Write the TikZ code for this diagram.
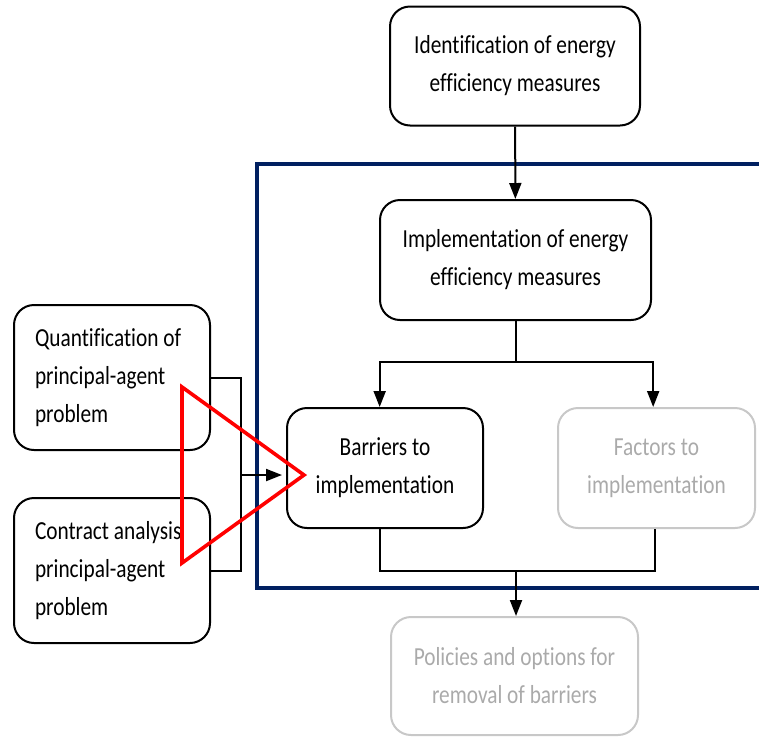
\documentclass[tikz,border=0pt]{standalone}
\usepackage{fontspec}
\usetikzlibrary{arrows.meta}
\newfontfamily\boxfont[FakeStretch=0.82,Ligatures=CommonOff]{Carlito}
\definecolor{frameblue}{RGB}{0,32,96}
\definecolor{fadeline}{RGB}{200,200,200}
\definecolor{fadetext}{RGB}{170,170,170}
\begin{document}
\begin{tikzpicture}[x=0.75pt,y=-0.75pt,
  box/.style={draw=black, line width=1.5pt, rounded corners=15pt,
    font=\boxfont\fontsize{19.5}{28.5}\selectfont, align=center, inner sep=0pt},
  fadebox/.style={box, draw=fadeline, text=fadetext},
  leftbox/.style={box, align=flush left, inner xsep=15.75pt, text width=115.5pt},
  link/.style={line width=1.5pt, line join=miter},
  arr/.style={link, -{Triangle[length=12pt,width=9pt]}}]
\useasboundingbox (0,0) rectangle (759,736);

% scope frame around implementation stage (open to the right)
\draw[frameblue, line width=2.4pt] (762,164) -- (257,164) -- (257,588) -- (762,588);

% boxes
\node[box, minimum width=187.5pt, minimum height=89.25pt] (ident) at (515,66)
  {Identification of energy\\efficiency measures};
\node[box, minimum width=203.25pt, minimum height=90pt] (impl) at (515.5,260)
  {Implementation of energy\\efficiency measures};
\node[leftbox, minimum height=108.75pt] (quant) at (112,377.5)
  {Quantification of\\principal-agent\\problem};
\node[leftbox, minimum height=108.75pt] (contr) at (112,570.5)
  {Contract analysis\\principal-agent\\problem};
\node[box, minimum width=147pt, minimum height=90pt] (barr) at (385,468)
  {Barriers to\\implementation};
\node[fadebox, minimum width=147.75pt, minimum height=90pt] (fact) at (656.5,468)
  {Factors to\\implementation};
\node[fadebox, minimum width=185.25pt, minimum height=88.5pt] (pol) at (514.5,676)
  {Policies and options for\\removal of barriers};

% connectors
\draw[arr] (ident) -- (impl);
\coordinate (split) at (515.5,362);
\draw[link] (impl.south) -- (split);
\draw[arr] (split) -| ([xshift=-4pt]barr.north);
\draw[arr] (split) -| ([xshift=-2.5pt]fact.north);

\coordinate (join) at (241,475);
\draw[link] (quant.east) -| (join) |- (contr.east);
\draw[arr] (join) -- ([xshift=-3pt]join -| barr.west);

\coordinate (merge) at (516,571);
\draw[link] ([xshift=-4pt]barr.south) |- (merge) -| ([xshift=-1pt]fact.south);
\draw[arr] (merge) -- (merge |- pol.north);

% highlight marker
\draw[red, line width=2.7pt, line join=miter] (182,387) -- (182,563) -- (304,475) -- cycle;
\end{tikzpicture}
\end{document}
